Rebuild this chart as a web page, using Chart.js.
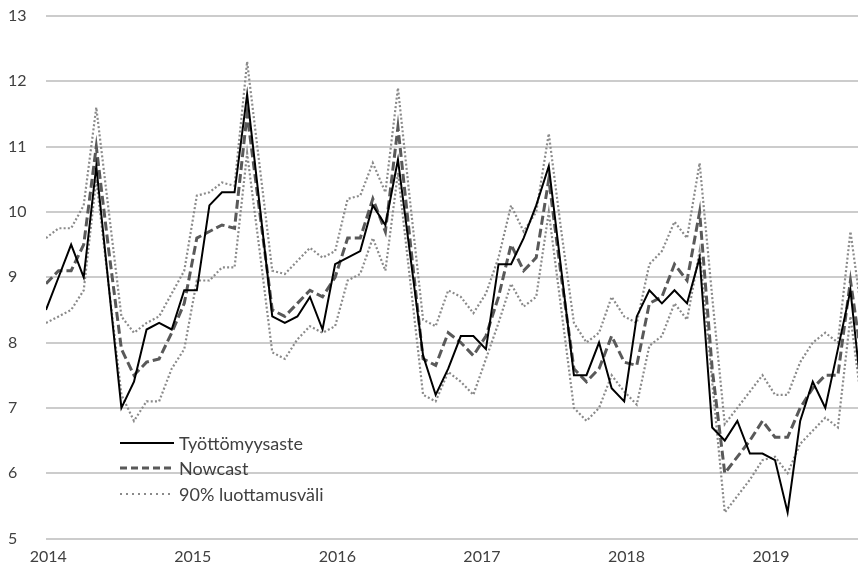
<!DOCTYPE html>
<html>
<head>
<meta charset="utf-8">
<title>Työttömyysaste ja nowcast</title>
<script src="https://cdn.jsdelivr.net/npm/chart.js@4.4.1/dist/chart.umd.min.js"></script>
<style>
  html, body { margin: 0; padding: 0; background: #fff; }
  #wrap { position: relative; width: 858px; height: 573px; }
  #legend {
    position: absolute; left: 120px; top: 430px;
    font-family: Lato, "Open Sans", sans-serif; font-size: 18px; color: #404040;
  }
  #legend .row { display: flex; align-items: center; height: 25.6px; white-space: nowrap; }
  #legend svg { width: 54px; height: 6px; margin-right: 5px; flex: none; }
</style>
</head>
<body>
<div id="wrap">
  <canvas id="chart" width="858" height="573"></canvas>
  <div id="legend"></div>
</div>
<script>
// Monthly data, Jan 2014 - Jun 2019 (the picture is cut at the right edge)
const months = [];
for (let y = 2014; y <= 2019; y++) {
  for (let m = 1; m <= 12; m++) {
    if (y === 2019 && m > 6) break;
    months.push(m + '/' + y);
  }
}

const yearLabels = ['2014', '2015', '2016', '2017', '2018', '2019'];

// Työttömyysaste (%)
const unemployment = [
  8.5, 9.0, 9.5, 9.0, 10.7, 8.85, 7.0, 7.4, 8.2, 8.3, 8.2, 8.8,
  8.8, 10.1, 10.3, 10.3, 11.8, 10.1, 8.4, 8.3, 8.4, 8.7, 8.2, 9.2,
  9.3, 9.4, 10.1, 9.8, 10.8, 9.3, 7.8, 7.2, 7.6, 8.1, 8.1, 7.9,
  9.2, 9.2, 9.6, 10.1, 10.7, 9.1, 7.5, 7.5, 8.0, 7.3, 7.1, 8.4,
  8.8, 8.6, 8.8, 8.6, 9.3, 6.7, 6.5, 6.8, 6.3, 6.3, 6.2, 5.4,
  6.8, 7.4, 7.0, 7.9, 8.8, 7.0
];

// Nowcast
const nowcast = [
  8.9, 9.1, 9.1, 9.5, 11.0, 9.4, 7.9, 7.5, 7.7, 7.75, 8.15, 8.6,
  9.6, 9.7, 9.8, 9.75, 11.5, 10.0, 8.5, 8.4, 8.6, 8.8, 8.7, 9.0,
  9.6, 9.6, 10.2, 9.7, 11.3, 9.5, 7.75, 7.65, 8.15, 8.0, 7.8, 8.1,
  8.7, 9.5, 9.1, 9.3, 10.5, 9.0, 7.6, 7.4, 7.6, 8.1, 7.7, 7.65,
  8.6, 8.7, 9.2, 8.95, 10.0, 7.6, 6.0, 6.25, 6.5, 6.8, 6.55, 6.55,
  7.0, 7.3, 7.5, 7.5, 8.95, 7.6
];

// 90% luottamusväli, yläraja
const upperBand = [
  9.6, 9.75, 9.75, 10.1, 11.6, 10.0, 8.4, 8.15, 8.3, 8.4, 8.75, 9.1,
  10.25, 10.3, 10.45, 10.4, 12.3, 10.7, 9.1, 9.05, 9.25, 9.45, 9.3, 9.4,
  10.2, 10.25, 10.75, 10.3, 11.9, 10.1, 8.35, 8.25, 8.8, 8.7, 8.45, 8.75,
  9.3, 10.1, 9.7, 10.0, 11.2, 9.7, 8.3, 8.0, 8.15, 8.7, 8.4, 8.3,
  9.2, 9.4, 9.85, 9.6, 10.75, 8.7, 6.75, 7.0, 7.25, 7.5, 7.2, 7.2,
  7.7, 8.0, 8.15, 8.0, 9.7, 8.3
];

// 90% luottamusväli, alaraja
const lowerBand = [
  8.3, 8.4, 8.5, 8.8, 10.5, 8.85, 7.2, 6.8, 7.1, 7.1, 7.6, 7.9,
  8.95, 8.95, 9.15, 9.15, 10.9, 9.4, 7.85, 7.75, 8.05, 8.25, 8.15, 8.25,
  8.95, 9.05, 9.6, 9.1, 10.6, 8.9, 7.2, 7.1, 7.55, 7.4, 7.2, 7.75,
  8.3, 8.9, 8.55, 8.7, 10.0, 8.5, 7.0, 6.8, 7.0, 7.5, 7.25, 7.05,
  7.95, 8.1, 8.6, 8.35, 9.4, 7.4, 5.4, 5.65, 5.9, 6.2, 6.25, 6.0,
  6.45, 6.65, 6.85, 6.7, 8.4, 6.9
];

const FONT = 'Lato, "Open Sans", sans-serif';
const toPoints = arr => arr.map((v, i) => ({ x: i, y: v }));

// HTML legend placed inside the plot (bottom left), as in the original
const htmlLegend = {
  id: 'htmlLegend',
  afterUpdate(chart) {
    const box = document.getElementById('legend');
    box.innerHTML = '';
    chart.data.datasets.forEach(ds => {
      if (ds.hideInLegend) return;
      const row = document.createElement('div');
      row.className = 'row';
      const dash = (ds.borderDash || []).join(' ');
      row.innerHTML =
        '<svg viewBox="0 0 54 6"><line x1="0" y1="3" x2="54" y2="3" stroke="' + ds.borderColor +
        '" stroke-width="' + ds.borderWidth + '" stroke-dasharray="' + (ds.legendDash || dash) + '"/></svg>';
      const txt = document.createElement('span');
      txt.textContent = ds.label;
      row.appendChild(txt);
      box.appendChild(row);
    });
  }
};

new Chart(document.getElementById('chart'), {
  type: 'line',
  data: {
    datasets: [
      {
        label: 'Työttömyysaste',
        data: toPoints(unemployment),
        borderColor: '#000000',
        borderWidth: 2,
        pointRadius: 0,
        tension: 0
      },
      {
        label: 'Nowcast',
        data: toPoints(nowcast),
        borderColor: '#595959',
        borderWidth: 3,
        borderDash: [9, 4],
        legendDash: '7 4',
        pointRadius: 0,
        tension: 0
      },
      {
        label: '90% luottamusväli',
        data: toPoints(upperBand),
        borderColor: '#8a8a8a',
        borderWidth: 2.2,
        borderDash: [2, 2.2],
        legendDash: '2 4',
        pointRadius: 0,
        tension: 0
      },
      {
        label: '90% luottamusväli (alaraja)',
        hideInLegend: true,
        data: toPoints(lowerBand),
        borderColor: '#8a8a8a',
        borderWidth: 2.2,
        borderDash: [2, 2.2],
        pointRadius: 0,
        tension: 0
      }
    ]
  },
  options: {
    responsive: false,
    animation: false,
    layout: { padding: { top: 16, left: 8, right: 0, bottom: 0 } },
    plugins: {
      legend: { display: false },
      tooltip: { enabled: false }
    },
    scales: {
      x: {
        type: 'linear',
        min: 0,
        max: 64.6,
        grid: { display: false },
        border: { display: false },
        afterBuildTicks: scale => {
          // year labels sit slightly less than 12 months apart in the original
          scale.ticks = yearLabels.map((_, k) => ({ value: 0.18 + 11.5 * k }));
        },
        afterFit: scale => { scale.height = 34.5; },
        ticks: {
          autoSkip: false,
          maxRotation: 0,
          padding: 1,
          color: '#404040',
          font: { family: FONT, size: 16 },
          callback: (value, index) => yearLabels[index]
        }
      },
      y: {
        min: 5,
        max: 13,
        afterFit: scale => { scale.width = 38; },
        ticks: {
          stepSize: 1,
          padding: 0,
          crossAlign: 'far',
          color: '#404040',
          font: { family: FONT, size: 16 }
        },
        grid: { color: '#cccccc', lineWidth: 2, drawTicks: false },
        border: { display: false }
      }
    }
  },
  plugins: [htmlLegend]
});
</script>
</body>
</html>
